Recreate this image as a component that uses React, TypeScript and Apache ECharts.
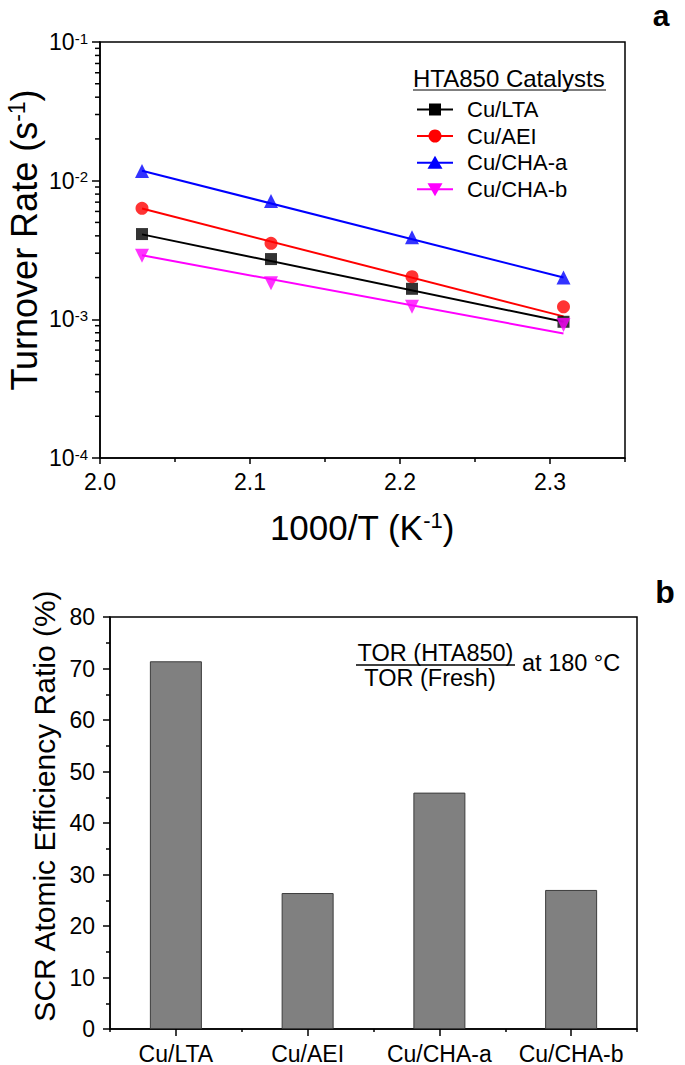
import React, { useEffect, useRef } from "react";
import * as echarts from "echarts";

// ---------- Panel a data ----------
const tempX = [2.028, 2.114, 2.208, 2.309];
const ltaTOR = [0.00412, 0.00272, 0.00166, 0.00096];
const aeiTOR = [0.00632, 0.00353, 0.00203, 0.00123];
const chaATOR = [0.01175, 0.00713, 0.00391, 0.002];
const chaBTOR = [0.00287, 0.00182, 0.00123, 0.00091];

const fitX = [2.028, 2.309];
const ltaFit = [0.0041, 0.00096];
const aeiFit = [0.0063, 0.00105];
const chaAFit = [0.0118, 0.002];
const chaBFit = [0.0029, 0.00079];

const seriesNames = ["Cu/LTA", "Cu/AEI", "Cu/CHA-a", "Cu/CHA-b"];
const seriesColors = ["#000000", "#ff0000", "#0000ff", "#ff00ff"];

const xMajorTicks = [2.0, 2.1, 2.2, 2.3];
const xMinorTicks = [2.05, 2.15, 2.25, 2.35];
const decades = [1e-4, 1e-3, 1e-2];
const minorMultipliers = [2, 3, 4, 5, 6, 7, 8, 9];

// ---------- Panel b data ----------
const catalysts = ["Cu/LTA", "Cu/AEI", "Cu/CHA-a", "Cu/CHA-b"];
const efficiencyRatio = [71.4, 26.4, 45.9, 27.0];

const FONT = "Liberation Sans, Arial, Helvetica, sans-serif";

export default function App() {
  const ref = useRef<HTMLDivElement>(null);

  useEffect(() => {
    if (!ref.current) return;
    const chart = echarts.init(ref.current, null, { renderer: "svg" });

    const zip = (xs: number[], ys: number[]) => xs.map((x, i) => [x, ys[i]]);
    const pts = [ltaTOR, aeiTOR, chaATOR, chaBTOR];
    const fits = [ltaFit, aeiFit, chaAFit, chaBFit];
    const symbols = ["rect", "circle", "triangle", "triangle"];
    const symbolSizes = [12, 13, 14, 14];
    const symbolRot = [0, 0, 0, 180];

    const lineSeries = fits.map((f, i) => ({
      type: "line",
      name: seriesNames[i] + " fit",
      xAxisIndex: 0,
      yAxisIndex: 0,
      data: zip(fitX, f),
      symbol: "none",
      lineStyle: { color: seriesColors[i], width: 2 },
      z: 2,
    }));
    const scatterSeries = pts.map((p, i) => ({
      type: "scatter",
      name: seriesNames[i],
      xAxisIndex: 0,
      yAxisIndex: 0,
      data: zip(tempX, p),
      symbol: symbols[i],
      symbolSize: symbolSizes[i],
      symbolRotate: symbolRot[i],
      itemStyle: { color: seriesColors[i] },
      z: 3,
    }));

    const legendRowsY = [109.5, 136, 162.7, 189.3];
    const legendGraphics: any[] = [];
    legendRowsY.forEach((y, i) => {
      legendGraphics.push({
        type: "line",
        shape: { x1: 417, y1: y, x2: 453, y2: y },
        style: { stroke: seriesColors[i], lineWidth: 2 },
      });
      if (i === 0) {
        legendGraphics.push({
          type: "rect",
          shape: { x: 429, y: y - 6, width: 12, height: 12 },
          style: { fill: seriesColors[i] },
        });
      } else if (i === 1) {
        legendGraphics.push({
          type: "circle",
          shape: { cx: 435, cy: y, r: 6.5 },
          style: { fill: seriesColors[i] },
        });
      } else if (i === 2) {
        legendGraphics.push({
          type: "polygon",
          shape: { points: [[435, y - 7], [442.5, y + 6], [427.5, y + 6]] },
          style: { fill: seriesColors[i] },
        });
      } else {
        legendGraphics.push({
          type: "polygon",
          shape: { points: [[427.5, y - 6], [442.5, y - 6], [435, y + 7]] },
          style: { fill: seriesColors[i] },
        });
      }
      legendGraphics.push({
        type: "text",
        x: 467,
        y,
        style: {
          text: seriesNames[i],
          fontSize: 22,
          fontFamily: FONT,
          fill: "#000",
          align: "left",
          verticalAlign: "middle",
        },
      });
    });

    const staticGraphics: any[] = [
      // panel labels
      {
        type: "text",
        x: 661,
        y: 15,
        style: {
          text: "a",
          fontSize: 30,
          fontWeight: "bold",
          fontFamily: FONT,
          fill: "#000",
          align: "center",
          verticalAlign: "middle",
        },
      },
      {
        type: "text",
        x: 665,
        y: 592,
        style: {
          text: "b",
          fontSize: 32,
          fontWeight: "bold",
          fontFamily: FONT,
          fill: "#000",
          align: "center",
          verticalAlign: "middle",
        },
      },
      // top y axis title
      {
        type: "text",
        x: 24,
        y: 240,
        rotation: Math.PI / 2,
        style: {
          text: "Turnover Rate (s{sup|-1})",
          fontSize: 36,
          fontFamily: FONT,
          fill: "#000",
          align: "center",
          verticalAlign: "middle",
          rich: {
            sup: {
              fontSize: 23,
              fontFamily: FONT,
              fill: "#000",
              verticalAlign: "top",
              padding: [0, 0, 14, 0],
            },
          },
        },
      },
      // top x axis title
      {
        type: "text",
        x: 362,
        y: 527,
        style: {
          text: "1000/T (K{sup|-1})",
          fontSize: 35,
          fontFamily: FONT,
          fill: "#000",
          align: "center",
          verticalAlign: "middle",
          rich: {
            sup: {
              fontSize: 22,
              fontFamily: FONT,
              fill: "#000",
              verticalAlign: "top",
              padding: [0, 0, 14, 0],
            },
          },
        },
      },
      // legend title
      {
        type: "text",
        x: 413,
        y: 78,
        style: {
          text: "HTA850 Catalysts",
          fontSize: 24,
          fontFamily: FONT,
          fill: "#000",
          align: "left",
          verticalAlign: "middle",
        },
      },
      {
        type: "line",
        shape: { x1: 413, y1: 90, x2: 606, y2: 90 },
        style: { stroke: "#000", lineWidth: 1.2 },
      },
      ...legendGraphics,
      // bottom y axis title
      {
        type: "text",
        x: 44,
        y: 806,
        rotation: Math.PI / 2,
        style: {
          text: "SCR Atomic Efficiency Ratio (%)",
          fontSize: 30,
          fontFamily: FONT,
          fill: "#000",
          align: "center",
          verticalAlign: "middle",
        },
      },
      // annotation
      {
        type: "text",
        x: 435.5,
        y: 653,
        style: {
          text: "TOR (HTA850)",
          fontSize: 23.5,
          fontFamily: FONT,
          fill: "#000",
          align: "center",
          verticalAlign: "middle",
        },
      },
      {
        type: "line",
        shape: { x1: 356, y1: 665, x2: 515, y2: 665 },
        style: { stroke: "#000", lineWidth: 1.3 },
      },
      {
        type: "text",
        x: 430,
        y: 678,
        style: {
          text: "TOR (Fresh)",
          fontSize: 23.5,
          fontFamily: FONT,
          fill: "#000",
          align: "center",
          verticalAlign: "middle",
        },
      },
      {
        type: "text",
        x: 522,
        y: 663,
        style: {
          text: "at 180 °C",
          fontSize: 23.5,
          fontFamily: FONT,
          fill: "#000",
          align: "left",
          verticalAlign: "middle",
        },
      },
    ];

    const option: any = {
      animation: false,
      backgroundColor: "#ffffff",
      textStyle: { fontFamily: FONT },
      grid: [
        {
          left: 100,
          top: 42,
          width: 525,
          height: 416,
          show: true,
          borderColor: "#000",
          borderWidth: 1.5,
          backgroundColor: "transparent",
        },
        {
          left: 110,
          top: 617,
          width: 527,
          height: 414,
          show: true,
          borderColor: "#000",
          borderWidth: 1.5,
          backgroundColor: "transparent",
        },
      ],
      xAxis: [
        {
          type: "value",
          gridIndex: 0,
          position: "bottom",
          min: 2.0,
          max: 2.35,
          axisLine: { show: true, onZero: false, lineStyle: { color: "#000", width: 1.5 } },
          axisTick: {
            show: true,
            inside: false,
            length: 6,
            customValues: xMajorTicks,
            lineStyle: { color: "#000", width: 1.5 },
          },
          axisLabel: {
            customValues: xMajorTicks,
            formatter: (v: number) => v.toFixed(1),
            fontSize: 23,
            color: "#000",
            fontFamily: FONT,
            margin: 12,
          },
          splitLine: { show: false },
        },
        {
          type: "category",
          gridIndex: 1,
          position: "bottom",
          data: catalysts,
          axisLine: { show: true, lineStyle: { color: "#000", width: 1.5 } },
          axisTick: {
            show: true,
            alignWithLabel: true,
            inside: false,
            length: 7,
            lineStyle: { color: "#000", width: 1.5 },
          },
          axisLabel: {
            fontSize: 23,
            color: "#000",
            fontFamily: FONT,
            margin: 13,
            interval: 0,
          },
          splitLine: { show: false },
        },
        {
          type: "category",
          gridIndex: 1,
          position: "bottom",
          data: catalysts,
          axisLine: { show: false },
          axisTick: {
            show: true,
            inside: false,
            length: 3,
            lineStyle: { color: "#000", width: 1.5 },
          },
          axisLabel: { show: false },
          splitLine: { show: false },
        },
      ],
      yAxis: [
        {
          type: "log",
          logBase: 10,
          gridIndex: 0,
          position: "left",
          min: 1e-4,
          max: 1e-1,
          axisLine: { show: true, onZero: false, lineStyle: { color: "#000", width: 1.5 } },
          axisTick: {
            show: true,
            inside: false,
            length: 8,
            lineStyle: { color: "#000", width: 1.5 },
          },
          axisLabel: {
            formatter: (v: number) => "10{sup|" + Math.round(Math.log10(v)) + "}",
            fontSize: 23,
            color: "#000",
            fontFamily: FONT,
            margin: 12,
            rich: {
              sup: {
                fontSize: 15,
                fontFamily: FONT,
                color: "#000",
                verticalAlign: "top",
                padding: [0, 0, 8, 0],
              },
            },
          },
          splitLine: { show: false },
        },
        {
          type: "value",
          gridIndex: 1,
          position: "left",
          min: 0,
          max: 80,
          interval: 10,
          axisLine: { show: true, lineStyle: { color: "#000", width: 1.5 } },
          axisTick: {
            show: true,
            inside: false,
            length: 7,
            lineStyle: { color: "#000", width: 1.5 },
          },
          minorTick: {
            show: true,
            splitNumber: 2,
            length: 4,
            lineStyle: { color: "#000", width: 1.5 },
          },
          axisLabel: {
            fontSize: 23,
            color: "#000",
            fontFamily: FONT,
            margin: 15,
          },
          splitLine: { show: false },
          minorSplitLine: { show: false },
        },
      ],
      series: [
        ...lineSeries,
        ...scatterSeries,
        {
          type: "bar",
          name: "SCR Atomic Efficiency Ratio",
          xAxisIndex: 1,
          yAxisIndex: 1,
          data: efficiencyRatio,
          barWidth: 52,
          itemStyle: { color: "#808080", borderColor: "#3c3c3c", borderWidth: 1 },
        },
      ],
      graphic: staticGraphics,
    };

    chart.setOption(option);

    // Minor ticks of panel a, positioned through the chart's own axis scales.
    const tickGraphics: any[] = [];
    decades.forEach((d) =>
      minorMultipliers.forEach((m) => {
        const p = chart.convertToPixel({ gridIndex: 0 }, [2.0, m * d]) as number[];
        if (p && isFinite(p[1])) {
          tickGraphics.push({
            type: "line",
            shape: { x1: p[0] - 5, y1: p[1], x2: p[0], y2: p[1] },
            style: { stroke: "#000", lineWidth: 1.5 },
          });
        }
      })
    );
    xMinorTicks.forEach((x) => {
      const p = chart.convertToPixel({ gridIndex: 0 }, [x, 1e-4]) as number[];
      if (p && isFinite(p[0])) {
        tickGraphics.push({
          type: "line",
          shape: { x1: p[0], y1: p[1], x2: p[0], y2: p[1] + 4 },
          style: { stroke: "#000", lineWidth: 1.5 },
        });
      }
    });
    chart.setOption({ graphic: [...staticGraphics, ...tickGraphics] });

    return () => chart.dispose();
  }, []);

  return (
    <div
      ref={ref}
      style={{ position: "fixed", left: 0, top: 0, width: 685, height: 1065, background: "#fff" }}
    />
  );
}
